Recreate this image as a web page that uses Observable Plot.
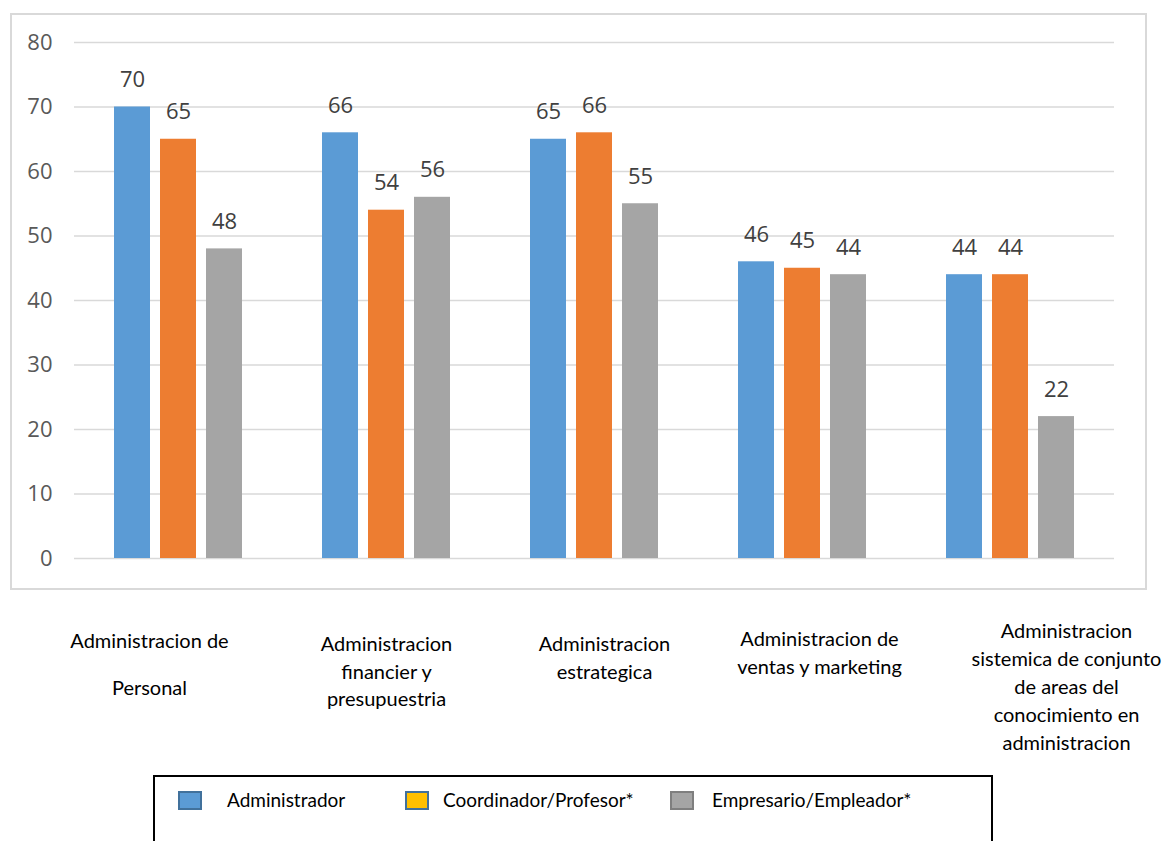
<!DOCTYPE html>
<html>
<head>
<meta charset="utf-8">
<script src="https://cdn.jsdelivr.net/npm/d3@7"></script>
<script src="https://cdn.jsdelivr.net/npm/@observablehq/plot@0.6"></script>
<style>
  html, body { margin: 0; padding: 0; background: #fff; }
  #wrap { position: relative; width: 1162px; height: 841px; overflow: hidden; background: #fff; }
  #frame { position: absolute; left: 10px; top: 13px; width: 1133px; height: 573px; border: 2px solid #D9D9D9; pointer-events: none; }
  #chart { position: absolute; left: 0; top: 0; }
  #legend { position: absolute; left: 153px; top: 775px; width: 840px; height: 100px; border: 2px solid #000; box-sizing: border-box; font-family: Lato, "Open Sans", sans-serif; font-size: 19px; color: #000; }
  .sw { width: 20px; height: 15px; border: 2px solid; }
  .lab { position: absolute; white-space: nowrap; line-height: 19px; }
</style>
</head>
<body>
<div id="wrap">
  <div id="chart"></div>
  <div id="frame"></div>
  <div id="legend"></div>
</div>
<script>
const categories = ["Personal", "Financiera", "Estrategica", "Ventas", "Sistemica"];
const categoryLabels = [
  "Administracion de\n\nPersonal",
  "Administracion\nfinancier y\npresupuestria",
  "Administracion\nestrategica",
  "Administracion de\nventas y marketing",
  "Administracion\nsistemica de conjunto\nde areas del\nconocimiento en\nadministracion"
];
const series = ["Administrador", "Coordinador/Profesor*", "Empresario/Empleador*"];
const administrador = [70, 66, 65, 46, 44];
const coordinador = [65, 54, 66, 45, 44];
const empresario = [48, 56, 55, 44, 22];
const yTicks = [0, 10, 20, 30, 40, 50, 60, 70, 80];
const barColors = ["#5B9BD5", "#ED7D31", "#A5A5A5"];
const legendFill = ["#5B9BD5", "#FFC000", "#A5A5A5"];
const legendBorder = ["#41719C", "#41719C", "#7F7F7F"];

// label layout (styling offsets, as in the original Excel rendering)
const labelDx = [-29, 0, 10, 17, 56];
const labelDy = [0, 0, 0, -5, -13];
const labelLineHeight = [1.175, 1.375, 1.375, 1.4, 1.4];

const seriesValues = [administrador, coordinador, empresario];
const data = [];
categories.forEach((c, i) => {
  series.forEach((s, j) => {
    data.push({category: c, series: s, value: seriesValues[j][i]});
  });
});

const labelMarks = categories.map((c, i) => Plot.text([{category: c, label: categoryLabels[i]}], {
  fx: "category", text: "label", frameAnchor: "bottom", lineAnchor: "top",
  dx: labelDx[i], dy: 73 + labelDy[i],
  fontFamily: "Lato, 'Open Sans', sans-serif", fontSize: 20, lineHeight: labelLineHeight[i],
  fill: "#000"
}));

const chart = Plot.plot({
  width: 1162,
  height: 770,
  marginTop: 42,
  marginBottom: 212,
  marginLeft: 73,
  marginRight: 48,
  style: {background: "transparent", fontFamily: "'Open Sans', sans-serif", fontSize: "22px"},
  fx: {domain: categories, padding: 0, label: null, axis: null},
  x: {domain: series, paddingInner: 0.226, paddingOuter: 0.85, axis: null},
  y: {domain: [0, 80], label: null},
  color: {domain: series, range: barColors},
  marks: [
    Plot.gridY(yTicks, {stroke: "#D9D9D9", strokeOpacity: 1, strokeWidth: 1.5}),
    Plot.axisY(yTicks, {tickSize: 0, tickPadding: 22, fontSize: 22, fill: "#595959", label: null, fontFamily: "'Open Sans', sans-serif"}),
    ...labelMarks,
    Plot.barY(data, {fx: "category", x: "series", y: "value", fill: "series"}),
    Plot.text(data, {fx: "category", x: "series", y: "value", text: d => String(d.value), dy: -27,
      fontSize: 22, fill: "#404040", fontFamily: "'Open Sans', sans-serif"})
  ]
});
document.getElementById("chart").appendChild(chart);

// legend
const legend = document.getElementById("legend");
const itemLefts = [23, 250, 515];
const textOffsets = [49, 38, 42];
series.forEach((s, j) => {
  const sw = document.createElement("div");
  sw.className = "sw";
  sw.style.position = "absolute";
  sw.style.left = itemLefts[j] + "px";
  sw.style.top = "14px";
  sw.style.background = legendFill[j];
  sw.style.borderColor = legendBorder[j];
  legend.appendChild(sw);
  const lab = document.createElement("div");
  lab.className = "lab";
  lab.style.left = (itemLefts[j] + textOffsets[j]) + "px";
  lab.style.top = "13px";
  lab.textContent = s;
  legend.appendChild(lab);
});
</script>
</body>
</html>
